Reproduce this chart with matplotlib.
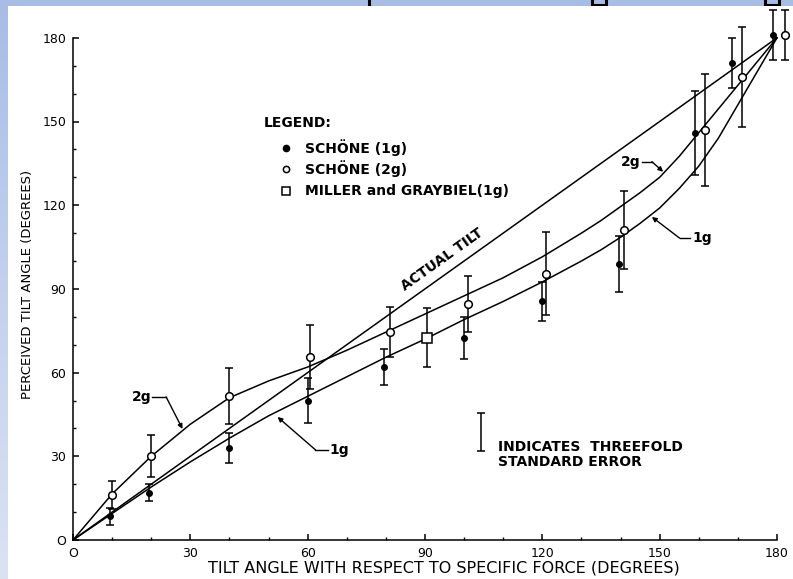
import numpy as np
import matplotlib
matplotlib.use('Agg')
import matplotlib.pyplot as plt

# data (degrees)
actual_x = [0, 180]
actual_y = [0, 180]

curve_x = [0, 10, 20, 30, 40, 50, 60, 70, 80, 90, 100, 110, 120, 130, 135, 140, 145,
           150, 155, 160, 165, 170, 175, 180]
curve_2g = [0, 16.5, 30, 41.5, 51, 57, 62, 68, 74.5, 81, 87.5, 94, 101.5, 110, 114.5, 119.5, 124.5,
            130, 137.5, 146, 154.5, 163, 171.5, 180]
curve_1g = [0, 9.5, 19, 28, 36.5, 44.5, 51.5, 58.5, 65.5, 72, 79, 85.5, 92.5, 100, 104, 108.5, 113.5,
            119, 126, 134, 144, 156, 168, 180]

schone1_x = [9.5, 19.5, 40, 60, 79.5, 100, 120, 139.5, 159, 168.5, 179]
schone1_y = [8.5, 17, 33, 50, 62, 72.5, 85.5, 99, 146, 171, 181]
schone1_err = [3, 3, 5.5, 8, 6.5, 7.5, 7, 10, 15, 9, 9]

schone2_x = [10, 20, 40, 60.5, 81, 101, 121, 141, 161.5, 171, 182]
schone2_y = [16, 30, 51.5, 65.5, 74.5, 84.5, 95.5, 111, 147, 166, 181]
schone2_err = [5, 7.5, 10, 11.5, 9, 10, 15, 14, 20, 18, 9]

miller_x = [90.5]
miller_y = [72.5]
miller_err = [10.5]

ticks = [0, 30, 60, 90, 120, 150, 180]
tick_labels = ['O', '30', '60', '90', '120', '150', '180']
legend_labels = ['SCHÖNE (1g)', 'SCHÖNE (2g)', 'MILLER and GRAYBIEL(1g)']

W, H = 793, 579
fig = plt.figure(figsize=(W / 100, H / 100), dpi=100)
fig.patch.set_facecolor('white')

# slide decoration: blue band on top (with the cut-off title), blue strip on the left
band = fig.add_axes([0, (H - 6) / H, 1, 6 / H])
band.set_xlim(0, W)
band.set_ylim(6, 0)
band.axis('off')
band.add_patch(plt.Rectangle((0, 0), W, 6, color='#a7bde6'))
band.plot([369, 369], [0, 6], color='k', lw=2.2)
for cx in [599, 772]:
    band.plot([cx - 7, cx - 7, cx + 7, cx + 7], [-1, 4.8, 4.8, -1], color='k', lw=2.2,
              solid_capstyle='butt')

strip = fig.add_axes([0, 0, 8 / W, 1])
grad = np.linspace(0, 1, 200).reshape(-1, 1)
strip.imshow(grad, aspect='auto', cmap=matplotlib.colors.LinearSegmentedColormap.from_list(
    'strip', ['#a7bde6', '#c3d1ee', '#dbe3f3']), extent=[0, 1, 0, 1], origin='upper')
strip.axis('off')

ax = fig.add_axes([73 / W, 39 / H, 704 / W, 532 / H])
ax.set_facecolor('none')
ax.set_xlim(0, 180)
ax.set_ylim(0, 532 / 2.79)

for s in ['top', 'right']:
    ax.spines[s].set_visible(False)
for s in ['left', 'bottom']:
    ax.spines[s].set_bounds(0, 180)
    ax.spines[s].set_linewidth(1.1)

ax.set_xticks(ticks)
ax.set_xticklabels(tick_labels)
ax.set_yticks(ticks)
ax.set_yticklabels(tick_labels)
ax.set_xticks(np.arange(0, 181, 10), minor=True)
ax.set_yticks(np.arange(0, 181, 10), minor=True)
ax.tick_params(which='major', direction='in', length=4.5, width=1.1, labelsize=9, pad=5)
ax.tick_params(which='minor', direction='in', length=2.5, width=1.0)

ax.set_xlabel('TILT ANGLE WITH RESPECT TO SPECIFIC FORCE (DEGREES)', fontsize=11.5)
ax.xaxis.label.set_va('center')
ax.xaxis.set_label_coords(0.527, -0.052)
ax.set_ylabel('PERCEIVED TILT ANGLE (DEGREES)', fontsize=9.5)
ax.yaxis.set_label_coords(-0.056, 0.481)

lw = 1.1
ax.plot(actual_x, actual_y, color='k', lw=lw, clip_on=False)
ax.plot(curve_x, curve_2g, color='k', lw=lw, clip_on=False)
ax.plot(curve_x, curve_1g, color='k', lw=lw, clip_on=False)

eb = dict(fmt='none', ecolor='k', elinewidth=1.1, capsize=3, capthick=1.1, clip_on=False)
ax.errorbar(schone1_x, schone1_y, yerr=schone1_err, **eb)
ax.errorbar(schone2_x, schone2_y, yerr=schone2_err, **eb)
ax.errorbar(miller_x, miller_y, yerr=miller_err, **eb)
ax.plot(schone1_x, schone1_y, 'o', ms=4, mfc='k', mec='k', clip_on=False, zorder=4)
ax.plot(schone2_x, schone2_y, 'o', ms=5.5, mfc='white', mec='k', mew=1.1, clip_on=False, zorder=4)
ax.plot(miller_x, miller_y, 's', ms=7, mfc='white', mec='k', mew=1.1, clip_on=False, zorder=4)

# legend block drawn by hand like the original figure
txt = dict(fontsize=10, fontweight='bold', color='k')
ax.text(48.7, 149.5, 'LEGEND:', ha='left', va='center', **txt)
leg_y = [140.5, 133, 125.1]
ax.plot([54.4], [leg_y[0]], 'o', ms=4.5, mfc='k', mec='k')
ax.plot([54.4], [leg_y[1]], 'o', ms=4.5, mfc='white', mec='k', mew=1.1)
ax.plot([54.4], [leg_y[2]], 's', ms=6, mfc='white', mec='k', mew=1.1)
for yy, lab in zip(leg_y, legend_labels):
    ax.text(59.2, yy, lab, ha='left', va='center', **txt)

# ACTUAL TILT label along the diagonal
p0 = ax.transData.transform((0, 0))
p1 = ax.transData.transform((180, 180))
ang = np.degrees(np.arctan2(p1[1] - p0[1], p1[0] - p0[0]))
ax.text(94.5, 100.5, 'ACTUAL TILT', rotation=ang, rotation_mode='anchor',
        ha='center', va='center', **txt)

# curve call-outs: label, short horizontal stroke, then arrow to the curve
def callout(label, tx, ty, hx0, hx1, target, ha):
    ax.text(tx, ty, label, ha=ha, va='center', **txt)
    ax.plot([hx0, hx1], [ty, ty], color='k', lw=1.0)
    ax.annotate('', xy=target, xytext=(hx1, ty),
                arrowprops=dict(arrowstyle='-|>', lw=1.0, color='k', mutation_scale=7,
                                shrinkA=0, shrinkB=0))

callout('2g', 20.0, 51.3, 20.3, 23.8, (28, 39.8), 'right')
callout('1g', 65.5, 32.3, 65.1, 62.0, (52.3, 44.1), 'left')
callout('2g', 145.0, 135.6, 145.4, 148.0, (150.9, 132.0), 'right')
callout('1g', 158.3, 108.2, 157.7, 155.1, (148.0, 115.8), 'left')

# threefold standard error key
ax.errorbar([104.4], [38.7], yerr=[6.8], fmt='none', ecolor='k', elinewidth=1.1, capsize=3, capthick=1.1)
ax.text(108.7, 30.6, 'INDICATES  THREEFOLD\nSTANDARD ERROR', ha='left', va='center',
        linespacing=1.1, **txt)

fig.savefig('out.png', dpi=100, facecolor='white')
